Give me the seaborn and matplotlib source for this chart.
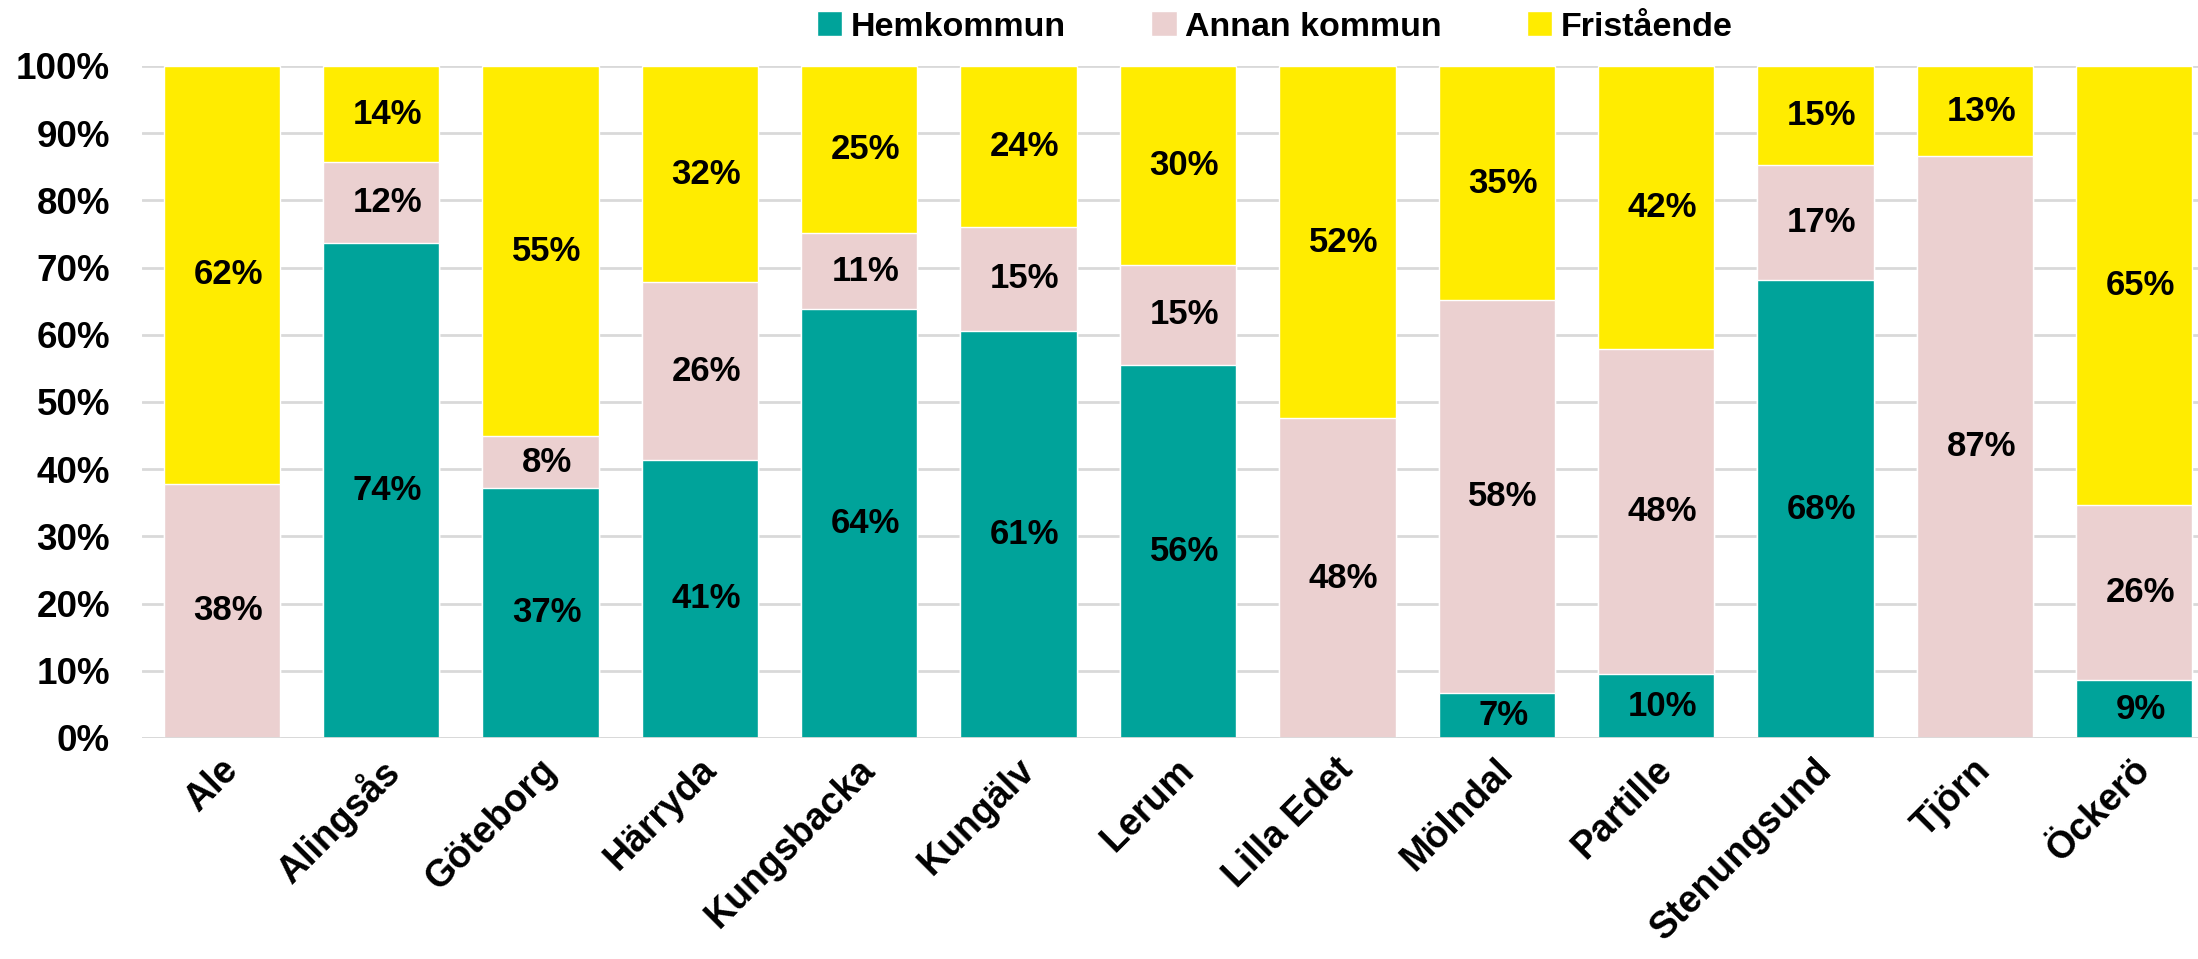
import numpy as np
import pandas as pd
import matplotlib
matplotlib.use("Agg")
import matplotlib.pyplot as plt
import matplotlib.transforms as mtransforms
import seaborn as sns

# data (per cent of pupils)
kommuner = ["Ale", "Alingsås", "Göteborg", "Härryda", "Kungsbacka", "Kungälv", "Lerum",
            "Lilla Edet", "Mölndal", "Partille", "Stenungsund", "Tjörn", "Öckerö"]
hemkommun = [0, 73.6, 37.2, 41.4, 63.8, 60.6, 55.5, 0, 6.7, 9.5, 68.1, 0, 8.6]
annan_kommun = [37.8, 12.1, 7.7, 26.4, 11.3, 15.4, 14.9, 47.6, 58.4, 48.4, 17.2, 86.6, 26.0]
fristaende = [62.2, 14.3, 55.1, 32.2, 24.9, 24.0, 29.6, 52.4, 34.9, 42.1, 14.7, 13.4, 65.4]
serier = ["Hemkommun", "Annan kommun", "Fristående"]
farger = ["#00A39A", "#EBD0D0", "#FFEC00"]
yticks = [0, 10, 20, 30, 40, 50, 60, 70, 80, 90, 100]

sns.set_theme(style="white")
plt.rcParams["font.family"] = ["Liberation Sans", "DejaVu Sans"]
plt.rcParams["font.weight"] = "bold"
plt.rcParams["text.color"] = "black"
plt.rcParams["xtick.color"] = "black"
plt.rcParams["ytick.color"] = "black"

df = pd.DataFrame({"kommun": kommuner, "Hemkommun": hemkommun,
                   "Annan kommun": annan_kommun, "Fristående": fristaende})
df["c1"] = df["Hemkommun"]
df["c2"] = df["c1"] + df["Annan kommun"]
df["c3"] = df["c2"] + df["Fristående"]

fig = plt.figure(figsize=(21.98, 9.59), dpi=100)
ax = fig.add_axes([0.0646, 0.2305, 0.9354, 0.7007])

# draw cumulative totals back to front
for col, name, color in [("c3", "Fristående", farger[2]),
                         ("c2", "Annan kommun", farger[1]),
                         ("c1", "Hemkommun", farger[0])]:
    sns.barplot(data=df, x="kommun", y=col, color=color, width=0.73,
                saturation=1, ax=ax, label=name, zorder=2)

# data labels centred in each segment
for i in range(len(kommuner)):
    bottom = 0
    for name in serier:
        v = df.loc[i, name]
        if v > 0:
            ax.text(i + 0.04, bottom + v / 2, f"{round(v)}%", ha="center", va="center",
                    fontsize=25, fontweight="bold", color="black", zorder=4)
        bottom += v

ax.set_xlim(-0.5, 12.4)
ax.set_ylim(0, 100)
ax.set_yticks(yticks)
ax.set_yticklabels([f"{t}%" for t in yticks], fontsize=26.5, fontweight="bold")
ax.yaxis.grid(True, color="#D9D9D9", linewidth=2, zorder=0)
ax.set_axisbelow(True)
ax.axhline(0, color="#D9D9D9", linewidth=2, zorder=3)
ax.set_xlabel("")
ax.set_ylabel("")
for s in ax.spines.values():
    s.set_visible(False)
ax.tick_params(axis="y", length=0, pad=23, labelcolor="black")
ax.tick_params(axis="x", length=0, pad=10, labelcolor="black")
ax.set_xticks(range(len(kommuner)))
ax.set_xticklabels(kommuner, rotation=45, ha="right", rotation_mode="anchor",
                   fontsize=27, fontweight="bold")
offset = mtransforms.ScaledTranslation(-0.02, 0.0, fig.dpi_scale_trans)
for lbl in ax.get_xticklabels():
    lbl.set_transform(lbl.get_transform() + offset)

handles, labels = ax.get_legend_handles_labels()
order = [labels.index(n) for n in serier]
if ax.legend_:
    ax.legend_.remove()
fig.legend([handles[k] for k in order], serier, loc="upper center",
           bbox_to_anchor=(0.58, 1.02), ncol=3, frameon=False, labelcolor="black",
           handlelength=0.75, handleheight=0.75, handletextpad=0.25, columnspacing=2.5,
           prop={"weight": "bold", "size": 24.5})

fig.savefig("out.png", dpi=100)
